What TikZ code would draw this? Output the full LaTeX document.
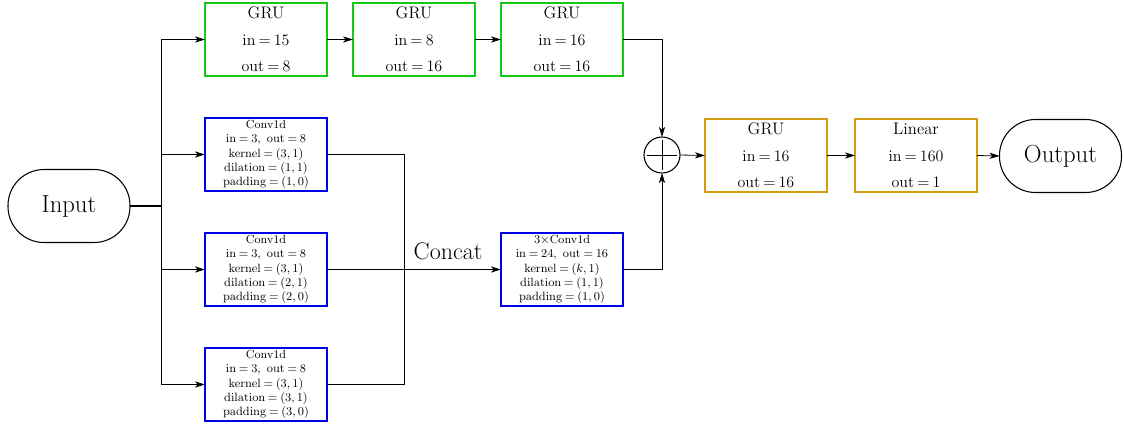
\documentclass[tikz,border=0pt]{standalone}
\usepackage{amsmath}
\usetikzlibrary{arrows.meta}
\definecolor{grugreen}{RGB}{20,200,20}
\definecolor{convblue}{RGB}{0,0,230}
\definecolor{gruorange}{RGB}{214,155,20}
\newcommand\gruFont{\fontsize{12.5}{19.9}\selectfont\thickmuskip=3.5mu\relax}
\newcommand\convFont{\fontsize{8.8}{10.7}\selectfont\thickmuskip=4mu\relax}
\begin{document}
\begin{tikzpicture}[x=0.75pt,y=-0.75pt,
  line width=0.6pt,
  arr/.style={-{Stealth[length=7.5pt,width=4.6pt,inset=2pt]}},
  box/.style={draw,line width=0.85pt,rectangle,minimum width=91.5pt,minimum height=54.75pt,inner sep=0pt,outer sep=0pt,align=center},
  grubox/.style={box,draw=grugreen,font=\gruFont},
  obox/.style={box,draw=gruorange,font=\gruFont},
  convbox/.style={box,draw=convblue,font=\convFont},
  term/.style={draw,line width=0.8pt,rectangle,rounded corners=27pt,minimum width=91.5pt,minimum height=54.75pt,inner sep=0pt,outer sep=0pt,font=\fontsize{18.5}{20}\selectfont}
]
\useasboundingbox (0,0) rectangle (1124,428);
\node[term] (in) at (69,206) {Input};
\node[grubox] (g1) at (266,39.5) {GRU\\ $\mathrm{in}=15$\\ $\mathrm{out}=8$};
\node[grubox] (g2) at (414,39.5) {GRU\\ $\mathrm{in}=8$\\ $\mathrm{out}=16$};
\node[grubox] (g3) at (562,39.5) {GRU\\ $\mathrm{in}=16$\\ $\mathrm{out}=16$};
\node[convbox] (c1) at (266,154.5) {Conv1d\\ $\mathrm{in}=3,\ \mathrm{out}=8$\\ $\mathrm{kernel}=(3,1)$\\ $\mathrm{dilation}=(1,1)$\\ $\mathrm{padding}=(1,0)$};
\node[convbox] (c2) at (266,269.5) {Conv1d\\ $\mathrm{in}=3,\ \mathrm{out}=8$\\ $\mathrm{kernel}=(3,1)$\\ $\mathrm{dilation}=(2,1)$\\ $\mathrm{padding}=(2,0)$};
\node[convbox] (c3) at (266,384.5) {Conv1d\\ $\mathrm{in}=3,\ \mathrm{out}=8$\\ $\mathrm{kernel}=(3,1)$\\ $\mathrm{dilation}=(3,1)$\\ $\mathrm{padding}=(3,0)$};
\node[convbox] (c4) at (562,269.5) {$3\times$Conv1d\\ $\mathrm{in}=24,\ \mathrm{out}=16$\\ $\mathrm{kernel}=(k,1)$\\ $\mathrm{dilation}=(1,1)$\\ $\mathrm{padding}=(1,0)$};
\node[draw,circle,line width=0.8pt,minimum size=27pt,inner sep=0pt,outer sep=0pt] (plus) at (662,155) {};
\draw[line width=0.7pt] ([yshift=-2pt]plus.north) -- ([yshift=2pt]plus.south);
\draw[line width=0.7pt] ([xshift=2pt]plus.west) -- ([xshift=-2pt]plus.east);
\node[obox] (g4) at (766,155.5) {GRU\\ $\mathrm{in}=16$\\ $\mathrm{out}=16$};
\node[obox] (lin) at (916,155.5) {Linear\\ $\mathrm{in}=160$\\ $\mathrm{out}=1$};
\node[term] (out) at (1060.5,156) {Output};
\coordinate (br) at (161,206);
\coordinate (cc) at (404,269.5);
\draw[line width=1.2pt] (in.east) -- (br);
\draw[arr] (br) |- (g1.west);
\draw[arr] (br) |- (c1.west);
\draw[arr] (br) |- (c2.west);
\draw[arr] (br) |- (c3.west);
\draw[arr] (g1.east) -- (g2.west);
\draw[arr] (g2.east) -- (g3.west);
\draw (c1.east) -| (cc);
\draw (c3.east) -| (cc);
\draw[arr] (c2.east) -- (c4.west);
\node[font=\fontsize{18}{20}\selectfont,anchor=base] (concat) at (448,259) {Concat};
\draw[arr] (g3.east) -| (plus.north);
\draw[arr] (c4.east) -| (plus.south);
\draw[arr] (plus.east) -- (g4.west);
\draw[arr] (g4.east) -- (lin.west);
\draw[arr] (lin.east) -- (out.west);
\end{tikzpicture}
\end{document}
